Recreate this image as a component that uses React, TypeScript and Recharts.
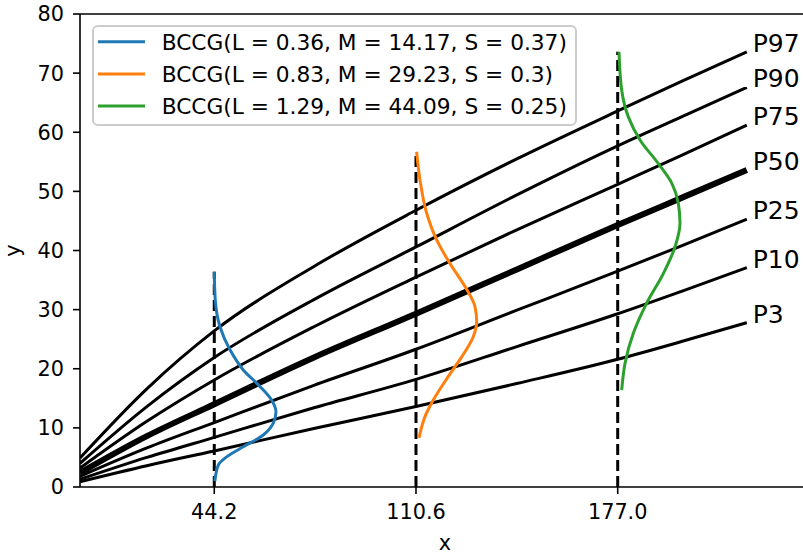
import React from 'react';
import { LineChart, Line, XAxis, YAxis, ReferenceLine, Legend, Label } from 'recharts';

const FONT = '"DejaVu Sans", sans-serif';

// Percentile curves (x positions and read y values)
const percentileX = [0, 22, 44.2, 77, 110.6, 143.8, 177, 198, 219.5];
const P97 = [4.9, 16.6, 26.4, 37.3, 46.8, 55.5, 63.6, 68.6, 73.6];
const P90 = [4.0, 13.6, 21.9, 31.7, 40.6, 49.4, 57.7, 62.6, 67.6];
const P75 = [3.2, 11.1, 18.1, 27.1, 35.5, 43.5, 51.2, 56.1, 61.2];
const P50 = [2.4, 8.6, 14.0, 21.9, 29.3, 36.8, 44.3, 48.9, 53.6];
const P25 = [1.8, 6.6, 10.9, 17.2, 23.3, 29.9, 36.5, 40.8, 45.3];
const P10 = [1.3, 5.0, 8.4, 13.4, 18.2, 23.75, 29.3, 33.1, 37.1];
const P3 = [0.9, 3.6, 6.1, 9.9, 13.6, 17.5, 21.6, 24.6, 27.8];
const percentileNames = ['P97', 'P90', 'P75', 'P50', 'P25', 'P10', 'P3'];
const percentileValues = [P97, P90, P75, P50, P25, P10, P3];

// Density curves: centre x, y values, horizontal extent (in x units)
const densityCenters = [44.2, 110.6, 177.0];
const blueY = [36.4, 31.6, 27.1, 23.2, 19.8, 17.0, 14.7, 12.7, 10.8, 8.8, 6.8, 5.1, 3.7, 1.0];
const blueDx = [0, 0.33, 1.88, 5.17, 9.55, 15.04, 18.86, 20.31, 19.42, 16.13, 9.55, 4.08, 1.32, 0.2];
const orangeY = [56.7, 51.9, 46.3, 41.8, 37.8, 33.9, 30.5, 28.0, 25.4, 22.0, 18.7, 14.7, 11.9, 8.3];
const orangeDx = [0.2, 1.32, 3.52, 6.81, 11.19, 16.13, 19.42, 19.98, 18.86, 15.04, 10.63, 5.7, 2.96, 0.99];
const greenY = [73.6, 67.1, 62.6, 58.7, 54.7, 51.4, 48.0, 44.6, 40.6, 36.1, 31.1, 26.0, 20.9, 16.4];
const greenDx = [0.43, 1.32, 3.49, 7.34, 13.37, 17.78, 19.95, 20.51, 18.86, 15.01, 9.55, 5.14, 2.4, 1.32];
const densityY = [blueY, orangeY, greenY];
const densityDx = [blueDx, orangeDx, greenDx];
const densityColors = ['#1f77b4', '#ff7f0e', '#2ca02c'];
const legendLabels = [
  'BCCG(L = 0.36, M = 14.17, S = 0.37)',
  'BCCG(L = 0.83, M = 29.23, S = 0.3)',
  'BCCG(L = 1.29, M = 44.09, S = 0.25)',
];

const xTicks = [44.2, 110.6, 177.0];
const yTicks = [0, 10, 20, 30, 40, 50, 60, 70, 80];
const xDomain = [0, 240.3];
const yDomain = [0, 80];

const percentileData = percentileValues.map((vals) =>
  vals.map((y, i) => ({ x: percentileX[i], y }))
);
const densityData = densityY.map((ys, k) =>
  ys.map((y, i) => ({ x: densityCenters[k] + densityDx[k][i], y }))
);
const dashedData = densityCenters.map((c, k) => [
  { x: c, y: 0 },
  { x: c, y: densityY[k][0] },
]);

const tickStyle = { fill: '#000', fontSize: 20.8, fontFamily: FONT };

const makeEndLabel = (name: string, lastIndex: number) => (props: any) => {
  const { cx, cy, index } = props;
  if (index !== lastIndex) return <g key={`e-${name}-${index}`} />;
  return (
    <text
      key={`e-${name}-${index}`}
      x={cx + 6}
      y={cy}
      fontSize={25}
      fontFamily={FONT}
      fill="#000"
      textAnchor="start"
    >
      {name}
    </text>
  );
};

const renderLegend = () => (
  <div
    style={{
      boxSizing: 'border-box',
      width: 485,
      height: 101,
      border: '2px solid #cccccc',
      borderRadius: 6,
      background: 'rgba(255,255,255,0.8)',
      position: 'relative',
    }}
  >
    <svg width={485} height={101} style={{ position: 'absolute', left: -2, top: -2 }}>
      {legendLabels.map((t, i) => {
        const y = 16.7 + 32.2 * i;
        return (
          <g key={t}>
            <line x1={6} x2={53} y1={y} y2={y} stroke={densityColors[i]} strokeWidth={3} />
            <text
              x={69.7}
              y={y}
              dy="0.36em"
              fontSize={21.7}
              fontFamily={FONT}
              fill="#000"
            >
              {t}
            </text>
          </g>
        );
      })}
    </svg>
  </div>
);

const YLabel = () => (
  <text
    x={20}
    y={250.5}
    transform="rotate(-90 20 250.5)"
    textAnchor="middle"
    fontSize={20.8}
    fontFamily={FONT}
    fill="#000"
  >
    y
  </text>
);

export default function App() {
  return (
    <div
      style={{
        position: 'absolute',
        left: 0,
        top: 0,
        width: 803,
        height: 555,
        overflow: 'hidden',
        background: '#fff',
      }}
    >
      <LineChart
        width={810}
        height={555}
        margin={{ top: 14, right: 0, bottom: 0, left: 0 }}
      >
        <XAxis
          dataKey="x"
          type="number"
          domain={xDomain}
          ticks={xTicks}
          tickFormatter={(v: number) => v.toFixed(1)}
          height={68}
          allowDataOverflow
          stroke="#000"
          strokeWidth={1.6}
          tickSize={7}
          tickMargin={10}
          tick={tickStyle}
          tickLine={{ stroke: '#000', strokeWidth: 1.6 }}
          axisLine={{ stroke: '#000', strokeWidth: 1.6 }}
        >
          <Label
            value="x"
            position="insideBottom"
            offset={5}
            style={{ fontSize: 20.8, fontFamily: FONT, fill: '#000' }}
          />
        </XAxis>
        <YAxis
          type="number"
          domain={yDomain}
          ticks={yTicks}
          width={80}
          allowDataOverflow
          stroke="#000"
          strokeWidth={1.6}
          tickSize={7}
          tickMargin={9}
          tick={tickStyle}
          tickLine={{ stroke: '#000', strokeWidth: 1.6 }}
          axisLine={{ stroke: '#000', strokeWidth: 1.6 }}
        >
          <Label content={<YLabel />} />
        </YAxis>
        <ReferenceLine y={80} stroke="#000" strokeWidth={1.6} />
        {percentileData.map((d, i) => (
          <Line
            key={percentileNames[i]}
            data={d}
            dataKey="y"
            type="monotone"
            stroke="#000"
            strokeWidth={percentileNames[i] === 'P50' ? 6 : 3}
            dot={makeEndLabel(percentileNames[i], d.length - 1)}
            activeDot={false}
            isAnimationActive={false}
            legendType="none"
          />
        ))}
        {dashedData.map((d, i) => (
          <Line
            key={`dash-${i}`}
            data={d}
            dataKey="y"
            type="linear"
            stroke="#000"
            strokeWidth={3}
            strokeDasharray="11 5"
            dot={false}
            activeDot={false}
            isAnimationActive={false}
            legendType="none"
          />
        ))}
        {densityData.map((d, i) => (
          <Line
            key={`dens-${i}`}
            data={d}
            dataKey="y"
            type="monotoneY"
            stroke={densityColors[i]}
            strokeWidth={3}
            dot={false}
            activeDot={false}
            isAnimationActive={false}
            name={legendLabels[i]}
          />
        ))}
        <Legend
          layout="vertical"
          align="center"
          verticalAlign="middle"
          wrapperStyle={{ left: 92, top: 25, width: 485, height: 101 }}
          content={renderLegend}
        />
      </LineChart>
    </div>
  );
}
